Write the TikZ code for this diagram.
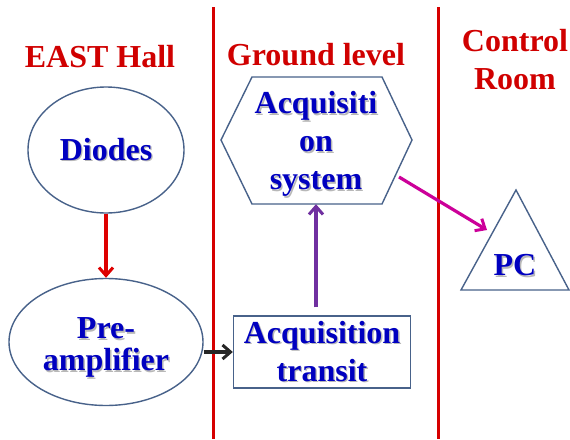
\documentclass[tikz,border=0pt]{standalone}
\usepackage{fontspec}
\setmainfont{Liberation Serif}
\usetikzlibrary{arrows.meta,shapes.geometric}

\definecolor{titlered}{RGB}{208,0,0}
\definecolor{divider}{RGB}{214,0,0}
\definecolor{textblue}{RGB}{0,0,192}
\definecolor{edgeblue}{RGB}{72,98,138}
\definecolor{arrowred}{RGB}{222,0,0}
\definecolor{arrowpurple}{RGB}{112,48,160}
\definecolor{arrowmagenta}{RGB}{204,0,153}
\definecolor{arrowblack}{RGB}{38,38,38}

% bold blue label with a soft grey drop shadow
\newcommand\shadowed[1]{\leavevmode\rlap{\kern1.4pt\raisebox{-1.4pt}{\textcolor{black!28}{#1}}}#1}

\tikzset{
  titletext/.style={text=titlered, font=\fontsize{32}{38}\selectfont\bfseries, align=center, inner sep=0pt},
  bluetext/.style={text=textblue, font=\fontsize{32}{38}\selectfont\bfseries, align=center, inner sep=0pt},
  oval/.style={ellipse, draw=edgeblue, line width=1.4pt, bluetext},
  boxnode/.style={rectangle, draw=edgeblue, line width=1.4pt, bluetext},
  outline/.style={draw=edgeblue, line width=1.4pt, line join=miter},
  divline/.style={draw=divider, line width=3pt},
  flow/.style={line width=3.2pt, -{Straight Barb[length=8pt,width=14pt,line width=3pt]}},
}

\begin{document}
\begin{tikzpicture}[x=1pt, y=-1pt]
  \fill[white] (0,0) rectangle (570,439);
  \useasboundingbox (0,0) rectangle (570,439);

  % zone dividers
  \draw[divline] (213,7) -- (213,439);
  \draw[divline] (438,7) -- (438,439);

  % zone titles
  \node[titletext, anchor=base] (tEast) at (100,67) {EAST Hall};
  \node[titletext, anchor=base] (tGround) at (316,65) {Ground level};
  \node[titletext] (tControl) at (515,60) {Control\\Room};

  % detector chain
  \node[oval, minimum width=156pt, minimum height=126pt] (diodes) at (106,150) {\shadowed{Diodes}};
  \node[oval, minimum width=194pt, minimum height=127pt] (preamp) at (106,342) {\rule{0pt}{34pt}\shadowed{Pre-}\\[-6pt]\shadowed{amplifier}};
  \node[boxnode, minimum width=177pt, minimum height=72pt] (trans) at (322,352) {\shadowed{Acquisition}\\\shadowed{transit}};

  % acquisition system (hexagon)
  \node[bluetext, minimum width=191pt, minimum height=118pt] (acq) at (316,145) {\shadowed{Acquisiti}\\\shadowed{on}\\\shadowed{system}};
  \draw[outline] (221,140) -- (252,77) -- (382,77) -- (412,140) -- (382,204) -- (252,204) -- cycle;

  % PC (triangle)
  \draw[outline] (516,190) -- (569,290) -- (461,290) -- cycle;
  \node[bluetext] (pc) at (515,266) {\shadowed{PC}};

  % connectors
  \coordinate (acqOut) at (399,177);
  \coordinate (pcIn) at (487,230);
  \path ([yshift=8pt]trans.north) coordinate (transTop);

  \draw[flow, arrowred] (diodes.south) -- (preamp.north);
  \draw[flow, arrowblack] (preamp.east |- trans.west) -- (trans.west);
  \draw[flow, arrowpurple] (transTop -| acq.south) -- (acq.south);
  \draw[flow, arrowmagenta] (acqOut) -- (pcIn);
\end{tikzpicture}
\end{document}
